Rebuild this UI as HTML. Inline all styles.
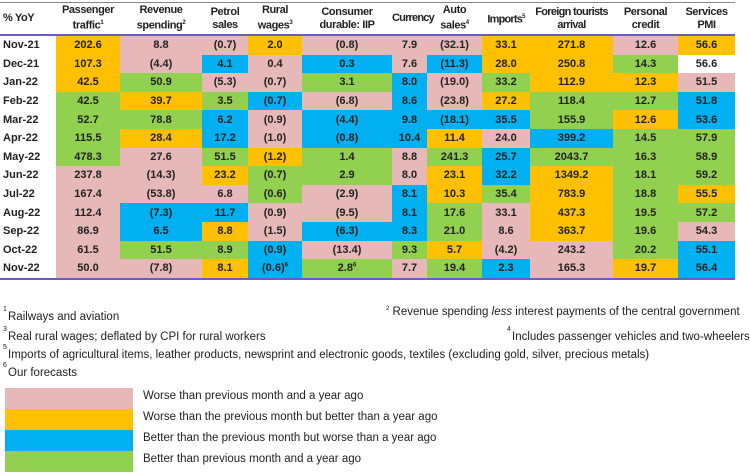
<!DOCTYPE html>
<html><head><meta charset="utf-8"><style>
body{margin:0;width:750px;height:476px;background:#fff;font-family:"Liberation Sans",sans-serif;position:relative;overflow:hidden}
table{position:absolute;left:0;top:2px;border-collapse:collapse;table-layout:fixed;width:735px;font-weight:bold;font-size:11px;color:#222}
th{height:31px;font-size:11px;line-height:13px;text-align:center;border-top:1px solid #888;border-bottom:2px solid #6a5acd;padding:0;white-space:nowrap;letter-spacing:-0.4px}
td{height:18.6px;padding:0;text-align:center;white-space:nowrap}
td:first-child,th:first-child{text-align:left;padding-left:3px}
tbody tr:last-child td{border-bottom:2px solid #6a5acd}
sup{font-size:6px}
.P{background:#e6b8b7}.O{background:#ffc000}.B{background:#00b0f0}.G{background:#92d050}.W{background:#fff}
.fn{position:absolute;font-size:11.5px;color:#222;white-space:nowrap}
.lg{position:absolute;left:5px;width:128px;height:21px}
</style></head><body>
<table>
<colgroup><col style="width:56px"><col style="width:64px"><col style="width:82px"><col style="width:46px"><col style="width:54px"><col style="width:90px"><col style="width:35px"><col style="width:55px"><col style="width:48px"><col style="width:83px"><col style="width:65px"><col style="width:57px"></colgroup>
<thead><tr><th>% YoY</th><th>Passenger<br>traffic<sup>1</sup></th><th>Revenue<br>spending<sup>2</sup></th><th>Petrol<br>sales</th><th>Rural<br>wages<sup>3</sup></th><th>Consumer<br>durable: IIP</th><th style="letter-spacing:-0.8px">Currency</th><th>Auto<br>sales<sup>4</sup></th><th style="letter-spacing:-0.8px">Imports<sup>5</sup></th><th style="letter-spacing:-0.7px">Foreign tourists<br>arrival</th><th>Personal<br>credit</th><th>Services<br>PMI</th></tr></thead>
<tbody>
<tr><td>Nov-21</td><td class="O">202.6</td><td class="P">8.8</td><td class="P">(0.7)</td><td class="O">2.0</td><td class="P">(0.8)</td><td class="P">7.9</td><td class="P">(32.1)</td><td class="O">33.1</td><td class="O">271.8</td><td class="P">12.6</td><td class="O">56.6</td></tr>
<tr><td>Dec-21</td><td class="O">107.3</td><td class="P">(4.4)</td><td class="B">4.1</td><td class="P">0.4</td><td class="B">0.3</td><td class="P">7.6</td><td class="B">(11.3)</td><td class="O">28.0</td><td class="O">250.8</td><td class="G">14.3</td><td class="W">56.6</td></tr>
<tr><td>Jan-22</td><td class="O">42.5</td><td class="G">50.9</td><td class="P">(5.3)</td><td class="P">(0.7)</td><td class="G">3.1</td><td class="B">8.0</td><td class="P">(19.0)</td><td class="G">33.2</td><td class="O">112.9</td><td class="O">12.3</td><td class="P">51.5</td></tr>
<tr><td>Feb-22</td><td class="G">42.5</td><td class="O">39.7</td><td class="G">3.5</td><td class="B">(0.7)</td><td class="P">(6.8)</td><td class="B">8.6</td><td class="P">(23.8)</td><td class="O">27.2</td><td class="G">118.4</td><td class="G">12.7</td><td class="B">51.8</td></tr>
<tr><td>Mar-22</td><td class="G">52.7</td><td class="G">78.8</td><td class="B">6.2</td><td class="P">(0.9)</td><td class="B">(4.4)</td><td class="B">9.8</td><td class="B">(18.1)</td><td class="B">35.5</td><td class="G">155.9</td><td class="O">12.6</td><td class="B">53.6</td></tr>
<tr><td>Apr-22</td><td class="G">115.5</td><td class="O">28.4</td><td class="B">17.2</td><td class="P">(1.0)</td><td class="B">(0.8)</td><td class="B">10.4</td><td class="O">11.4</td><td class="P">24.0</td><td class="B">399.2</td><td class="G">14.5</td><td class="G">57.9</td></tr>
<tr><td>May-22</td><td class="G">478.3</td><td class="P">27.6</td><td class="G">51.5</td><td class="O">(1.2)</td><td class="G">1.4</td><td class="P">8.8</td><td class="G">241.3</td><td class="B">25.7</td><td class="G">2043.7</td><td class="G">16.3</td><td class="G">58.9</td></tr>
<tr><td>Jun-22</td><td class="P">237.8</td><td class="P">(14.3)</td><td class="O">23.2</td><td class="G">(0.7)</td><td class="G">2.9</td><td class="P">8.0</td><td class="O">23.1</td><td class="B">32.2</td><td class="O">1349.2</td><td class="G">18.1</td><td class="G">59.2</td></tr>
<tr><td>Jul-22</td><td class="P">167.4</td><td class="P">(53.8)</td><td class="P">6.8</td><td class="G">(0.6)</td><td class="P">(2.9)</td><td class="B">8.1</td><td class="O">10.3</td><td class="G">35.4</td><td class="O">783.9</td><td class="G">18.8</td><td class="O">55.5</td></tr>
<tr><td>Aug-22</td><td class="P">112.4</td><td class="B">(7.3)</td><td class="B">11.7</td><td class="P">(0.9)</td><td class="P">(9.5)</td><td class="B">8.1</td><td class="G">17.6</td><td class="P">33.1</td><td class="O">437.3</td><td class="G">19.5</td><td class="G">57.2</td></tr>
<tr><td>Sep-22</td><td class="P">86.9</td><td class="B">6.5</td><td class="O">8.8</td><td class="P">(1.5)</td><td class="B">(6.3)</td><td class="B">8.3</td><td class="G">21.0</td><td class="P">8.6</td><td class="O">363.7</td><td class="G">19.6</td><td class="P">54.3</td></tr>
<tr><td>Oct-22</td><td class="P">61.5</td><td class="G">51.5</td><td class="G">8.9</td><td class="B">(0.9)</td><td class="P">(13.4)</td><td class="G">9.3</td><td class="O">5.7</td><td class="P">(4.2)</td><td class="P">243.2</td><td class="G">20.2</td><td class="B">55.1</td></tr>
<tr><td>Nov-22</td><td class="P">50.0</td><td class="P">(7.8)</td><td class="O">8.1</td><td class="B">(0.6)<sup>6</sup></td><td class="G">2.8<sup>6</sup></td><td class="P">7.7</td><td class="G">19.4</td><td class="B">2.3</td><td class="P">165.3</td><td class="O">19.7</td><td class="B">56.4</td></tr>
</tbody></table>
<div class="fn" style="left:3px;top:306px;font-size:7px">1</div>
<div class="fn" style="left:8px;top:311px">Railways and aviation</div>
<div class="fn" style="left:386px;top:306px"><sup>2</sup> Revenue spending <i>less</i> interest payments of the central government</div>
<div class="fn" style="left:3px;top:326px;font-size:7px">3</div>
<div class="fn" style="left:8px;top:331px">Real rural wages; deflated by CPI for rural workers</div>
<div class="fn" style="left:507px;top:326px;font-size:7px">4</div>
<div class="fn" style="left:512px;top:331px">Includes passenger vehicles and two-wheelers</div>
<div class="fn" style="left:3px;top:344px;font-size:7px">5</div>
<div class="fn" style="left:8px;top:349px">Imports of agricultural items, leather products, newsprint and electronic goods, textiles (excluding gold, silver, precious metals)</div>
<div class="fn" style="left:3px;top:362px;font-size:7px">6</div>
<div class="fn" style="left:8px;top:367px">Our forecasts</div>
<div class="lg P" style="top:388px"></div><div class="fn" style="left:143px;top:390px">Worse than previous month and a year ago</div>
<div class="lg O" style="top:409px"></div><div class="fn" style="left:143px;top:411px">Worse than the previous month but better than a year ago</div>
<div class="lg B" style="top:430px"></div><div class="fn" style="left:143px;top:432px">Better than the previous month but worse than a year ago</div>
<div class="lg G" style="top:451px"></div><div class="fn" style="left:143px;top:453px">Better than previous month and a year ago</div>
</body></html>
